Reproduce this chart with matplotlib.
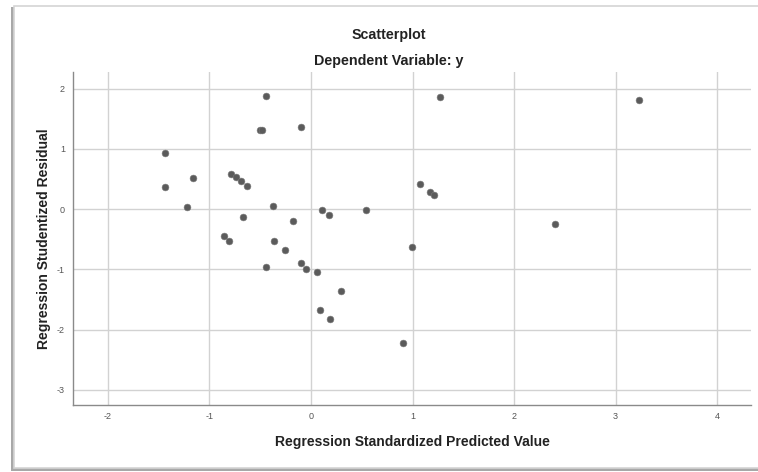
import matplotlib
matplotlib.use('Agg')
import matplotlib.pyplot as plt
from matplotlib.patches import Rectangle

#data
pred = [-0.447, -0.50, -0.48, -0.10, -1.44, -1.435, -1.157, -1.22,
        -0.785, -0.74, -0.69, -0.63, -0.37, -0.67, -0.18, 0.108, 0.18, 0.54,
        -0.857, -0.805, -0.365, -0.256, -0.443, -0.10, -0.05, 0.055, 0.30,
        0.09, 0.187, 0.91, 0.995,
        1.27, 3.23, 1.07, 1.17, 1.21, 2.40]
resid = [1.88, 1.32, 1.32, 1.36, 0.93, 0.37, 0.52, 0.04,
         0.58, 0.525, 0.47, 0.39, 0.05, -0.13, -0.19, -0.01, -0.10, -0.01,
         -0.44, -0.53, -0.53, -0.67, -0.96, -0.90, -1.00, -1.05, -1.36,
         -1.68, -1.83, -2.22, -0.63,
         1.86, 1.81, 0.42, 0.29, 0.24, -0.24]
xticks = [-2, -1, 0, 1, 2, 3, 4]
yticks = [-3, -2, -1, 0, 1, 2]

plt.rcParams['font.family'] = ['Liberation Sans', 'DejaVu Sans']
plt.rcParams['axes.unicode_minus'] = False

W, H = 758, 472
fig = plt.figure(figsize=(W / 100, H / 100), dpi=100)
fig.patch.set_facecolor('white')

#outer frame with a soft shadow
fig.patches.append(Rectangle((11 / W, 1 - 471 / H), 1.2, (471 - 7) / H,
                             transform=fig.transFigure, facecolor='#a8a8a8',
                             edgecolor='none', zorder=-2))
fig.patches.append(Rectangle((13.5 / W, 1 - 468 / H), 1.2, (468 - 5.5) / H,
                             transform=fig.transFigure, facecolor='white',
                             edgecolor='#d4d4d4', lw=1.2, zorder=-1))

ax = fig.add_axes([73.3 / W, 1 - 405 / H, (750.7 - 73.3) / W, (405 - 71.7) / H])
ax.set_zorder(2)
ax.patch.set_alpha(0)
ax.scatter(pred, resid, s=24, color='#5b5b5b', edgecolors='#7a7a7a',
           linewidths=0.4, zorder=3)

ax.set_xlim(-2.34, 4.33)
ax.set_ylim(-3.25, 2.28)
ax.set_xticks(xticks)
ax.set_yticks(yticks)
ax.grid(True, color='#d2d2d2', lw=1.0, zorder=0)
ax.set_axisbelow(True)
ax.tick_params(length=0, labelsize=6.5, labelcolor='#555555', pad=5)
ax.tick_params(axis='y', pad=6)
for s in ['top', 'right']:
    ax.spines[s].set_visible(False)
for s in ['left', 'bottom']:
    ax.spines[s].set_color('#8a8a8a')
    ax.spines[s].set_linewidth(1.0)

ax.set_xlabel('Regression Standardized Predicted Value', fontsize=10,
              fontweight='bold', color='#222222', labelpad=10)
ax.set_ylabel('Regression Studentized Residual', fontsize=10,
              fontweight='bold', color='#222222', labelpad=4)

fig.text(389 / W, 1 - 35 / H, 'Scatterplot', ha='center', va='center',
         fontsize=10.3, fontweight='bold', color='#222222')
fig.text(389 / W, 1 - 61.5 / H, 'Dependent Variable: y', ha='center',
         va='center', fontsize=10.3, fontweight='bold', color='#222222')

fig.savefig('out.png', dpi=100)
